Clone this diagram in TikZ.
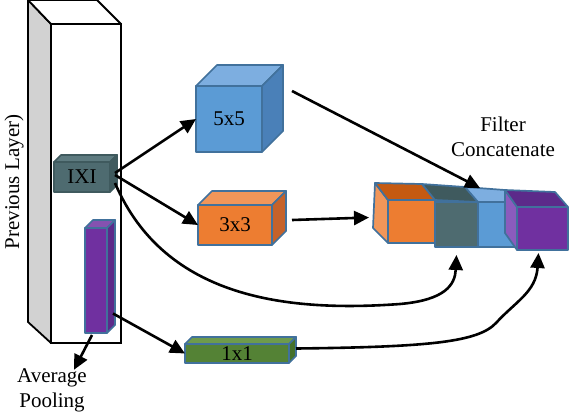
\documentclass[tikz,border=0pt]{standalone}
\usepackage{fontspec}
\setmainfont{Liberation Serif}
\usetikzlibrary{arrows.meta,calc}
\definecolor{edgeblue}{HTML}{41719C}
\definecolor{bluefront}{HTML}{5B9BD5}
\definecolor{bluetop}{HTML}{7DAEE0}
\definecolor{blueside}{HTML}{4A80B8}
\definecolor{orfront}{HTML}{ED7D31}
\definecolor{ortop}{HTML}{F19659}
\definecolor{orside}{HTML}{C5622A}
\definecolor{ordark}{HTML}{C55A11}
\definecolor{slfront}{HTML}{4E6B70}
\definecolor{sltop}{HTML}{5E7B80}
\definecolor{slside}{HTML}{3F5A5E}
\definecolor{grfront}{HTML}{548235}
\definecolor{grtop}{HTML}{6E9B4C}
\definecolor{grside}{HTML}{44702A}
\definecolor{prfront}{HTML}{7030A0}
\definecolor{prtop}{HTML}{8552B0}
\definecolor{prside}{HTML}{5C2A8A}
\definecolor{prlight}{HTML}{8B5BBD}
\newcommand\boxfaces[5][edgeblue]{%
 \filldraw[face,draw=#1,fill=#4] (#2.north west) -- ++(#3,-#3) -- ($(#2.north east)+(#3,-#3)$) -- (#2.north east) -- cycle;
 \filldraw[face,draw=#1,fill=#5] (#2.north east) -- ++(#3,-#3) -- ($(#2.south east)+(#3,-#3)$) -- (#2.south east) -- cycle;}
\begin{document}
\begin{tikzpicture}[x=1pt,y=-1pt,
 face/.style={draw=edgeblue,line width=1.7pt,line join=round},
 front/.style={face,inner sep=0pt,outer sep=0pt,font=\fontsize{21}{24}\selectfont},
 arr/.style={line width=2.6pt,-{Triangle[length=15pt,width=14pt]}},
 lbl/.style={font=\fontsize{21}{25}\selectfont,align=center}]
 \useasboundingbox (0,0) rectangle (570,416);
 \node[draw,line width=1.8pt,fill=white,minimum width=70pt,minimum height=319pt,inner sep=0pt,outer sep=0pt] (prev) at (86,183.5) {};
 \filldraw[line width=1.8pt,fill=gray!35,line join=round] (prev.north west) -- ++(-23,-24) -- ($(prev.south west)+(-23,-21)$) -- (prev.south west) -- cycle;
 \filldraw[line width=1.8pt,fill=white,line join=round] (prev.north west) -- ++(-23,-24) -- ($(prev.north east)+(-24,-24)$) -- (prev.north east) -- cycle;
 \node[lbl,rotate=90] (prevlbl) at (14,182) {Previous Layer)};
 \node[front,draw=slside,fill=slfront,minimum width=56pt,minimum height=30pt] (ixi) at (82,177) {IXI};
 \boxfaces[slside]{ixi}{7}{sltop}{slside}
 \node[front,fill=prfront,minimum width=22pt,minimum height=105pt] (bar) at (96,280.5) {};
 \boxfaces{bar}{8}{prtop}{prside}
 \node[front,fill=bluefront,minimum width=66pt,minimum height=66pt] (five) at (229,119) {5x5};
 \boxfaces{five}{21}{bluetop}{blueside}
 \node[front,fill=orfront,minimum width=74pt,minimum height=40pt] (three) at (235,225) {3x3};
 \boxfaces{three}{14}{ortop}{orside}
 \node[front,fill=grfront,minimum width=104pt,minimum height=19pt] (one) at (237,353.5) {1x1};
 \boxfaces{one}{7}{grtop}{grside}
 \node[lbl] (pool) at (52,390) {Average\\Pooling};
 \node[lbl] (catlbl) at (503,137) {Filter\\Concatenate};
 \filldraw[face,fill=ortop] (375,183) -- (388,200) -- (388,243) -- (373,228) -- cycle;
 \filldraw[face,fill=ordark] (375,183) -- (422,184) -- (435,200) -- (388,200) -- cycle;
 \node[front,fill=orfront,minimum width=47pt,minimum height=43pt] (cato) at (411.5,221.5) {};
 \filldraw[face,fill=slside] (422,184) -- (465,187) -- (478,202) -- (435,200) -- cycle;
 \node[front,fill=slfront,minimum width=43pt,minimum height=45pt] (cats) at (456.5,224.5) {};
 \filldraw[face,fill=bluetop] (465,187) -- (505,190) -- (517,207) -- (478,202) -- cycle;
 \node[front,fill=bluefront,minimum width=39pt,minimum height=45pt] (catb) at (497.5,224.5) {};
 \filldraw[face,fill=prlight] (505,190) -- (517,207) -- (517,250) -- (505,233) -- cycle;
 \filldraw[face,fill=prside] (505,190) -- (555,192) -- (568,207) -- (517,207) -- cycle;
 \node[front,fill=prfront,minimum width=51pt,minimum height=43pt] (catp) at (542.5,228.5) {};
 \draw[arr] ($(ixi.east)+(5,-4)$) -- (five.west);
 \draw[arr] ($(ixi.east)+(5,-2)$) -- (three.west);
 \draw[arr] ($(ixi.east)+(5,6)$) .. controls (165,300) and (290,312) .. (400,304) .. controls (445,300) and (455,285) .. ($(cats.south)+(0,8)$);
 \draw[arr] ($(three.east)+(20,-5)$) -- ($(cato.west)+(-19,-4)$);
 \draw[arr] ($(five.north east)+(30,5)$) -- ($(cats.north east)+(2,-14)$);
 \draw[arr] ($(bar.east)+(6,33)$) -- (one.west);
 \draw[arr] ($(bar.south)+(-4,2)$) -- ($(pool.north)+(22,5)$);
 \draw[arr] ($(one.east)+(7,-5)$) .. controls (430,347) and (478,342) .. (496,323) .. controls (515,302) and (536,292) .. ($(catp.south)+(-4,3)$);
\end{tikzpicture}
\end{document}
